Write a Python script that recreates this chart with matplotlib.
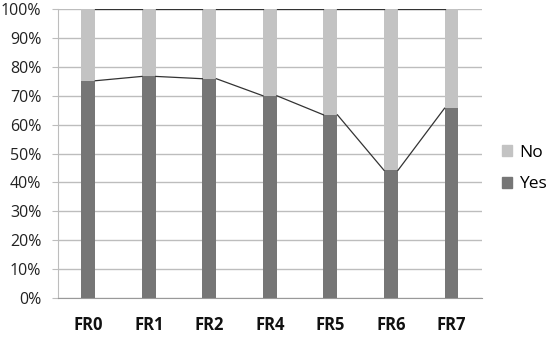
import numpy as np
import matplotlib.pyplot as plt
from matplotlib.patches import Patch

categories = ["FR0", "FR1", "FR2", "FR4", "FR5", "FR6", "FR7"]
yes_pct = [75.2, 76.7, 75.9, 70.0, 63.4, 44.2, 65.7]
no_pct = [100 - v for v in yes_pct]

yes_color = "#767676"
no_color = "#c3c3c3"
grid_color = "#bdbdbd"

plt.rcParams["font.family"] = ["Open Sans", "DejaVu Sans"]

fig = plt.figure(figsize=(5.5, 3.37), dpi=100)
ax = fig.add_axes([0.1055, 0.1157, 0.7705, 0.8573])

x = np.arange(len(categories))
width = 0.23
ax.bar(x, yes_pct, width, color=yes_color, zorder=3)
ax.bar(x, no_pct, width, bottom=yes_pct, color=no_color, zorder=3)

# series lines between bar edges
for i in range(len(x) - 1):
    xs = [x[i] + width / 2, x[i + 1] - width / 2]
    ax.plot(xs, [yes_pct[i], yes_pct[i + 1]], color="#333333", lw=0.9, zorder=4)
    ax.plot(xs, [100, 100], color="#333333", lw=0.9, zorder=4)

ax.set_xlim(-0.5, len(x) - 0.5)
ax.set_ylim(0, 100)
ax.set_yticks(np.arange(0, 101, 10))
ax.set_yticklabels([f"{v}%" for v in range(0, 101, 10)], fontsize=11.5, color="#222222")
ax.set_xticks(x)
ax.set_xticklabels(categories, fontsize=12, fontweight="bold", color="#111111")
ax.tick_params(axis="x", length=0, pad=13)
ax.tick_params(axis="y", length=4, color=grid_color, pad=8)

ax.grid(axis="y", color=grid_color, lw=1, zorder=0)
for s in ["top", "right"]:
    ax.spines[s].set_visible(False)
ax.spines["left"].set_color(grid_color)
ax.spines["bottom"].set_color("#999999")

handles = [Patch(color=no_color, label="No"), Patch(color=yes_color, label="Yes")]
fig.legend(handles=handles, loc="center left", bbox_to_anchor=(0.89, 0.5),
           frameon=False, fontsize=12.5, handlelength=0.6, handleheight=0.6,
           labelspacing=0.9, handletextpad=0.4, borderpad=0.2)

fig.savefig("out.png", dpi=100)
